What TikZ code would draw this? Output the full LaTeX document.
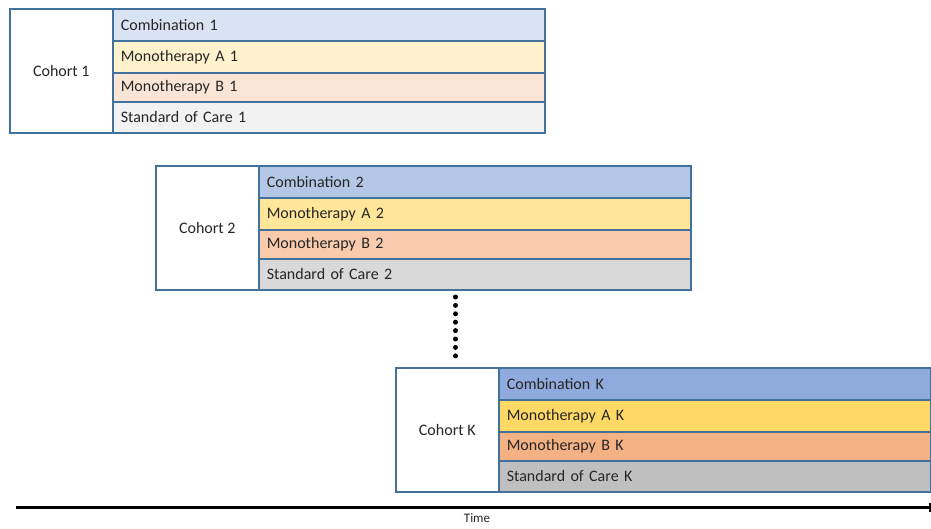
\documentclass[tikz,border=0pt]{standalone}
\usepackage{fontspec}
\setmainfont{Carlito}
\usetikzlibrary{arrows.meta}
\definecolor{bord}{HTML}{41719C}
\definecolor{cA}{HTML}{DAE3F3}\definecolor{mA1}{HTML}{FFF2CC}\definecolor{mB1}{HTML}{FBE5D6}\definecolor{s1}{HTML}{F2F2F2}
\definecolor{cB}{HTML}{B4C7E7}\definecolor{mA2}{HTML}{FFE699}\definecolor{mB2}{HTML}{F8CBAD}\definecolor{s2}{HTML}{D9D9D9}
\definecolor{cK}{HTML}{8FAADC}\definecolor{mAK}{HTML}{FFD966}\definecolor{mBK}{HTML}{F4B183}\definecolor{sK}{HTML}{BFBFBF}
\tikzset{
  cohortbox/.style={draw=bord, line width=1.6pt, fill=white, minimum width=103pt, minimum height=124pt, anchor=north west, inner sep=0pt, font=\fontsize{16}{18}\selectfont, text=black!85},
  armbox/.style={draw=bord, line width=1.6pt, text width=416pt, inner xsep=8pt, inner ysep=0pt, align=left, anchor=north west, font=\fontsize{16}{18}\selectfont, text=black!85},
  timeline/.style={line width=3pt, -{Bar[width=9pt,line width=2pt]}},
  dotline/.style={line width=5pt, line cap=round, dash pattern=on 0pt off 8.4pt}
}
\begin{document}
\begin{tikzpicture}[x=1pt,y=-1pt]
\useasboundingbox (0,0) rectangle (931,529);
% Cohort 1
\node[cohortbox] (co1) at (9,8) {Cohort 1};
\node[armbox, fill=cA, minimum height=32pt] (c1) at (112,8) {Combination 1};
\node[armbox, fill=mA1, minimum height=32pt] (a1) at (112,40) {Monotherapy A 1};
\node[armbox, fill=mB1, minimum height=29pt] (b1) at (112,72) {Monotherapy B 1};
\node[armbox, fill=s1, minimum height=31pt] (s1n) at (112,101) {Standard of Care 1};
% Cohort 2
\node[cohortbox] (co2) at (155,165) {Cohort 2};
\node[armbox, fill=cB, minimum height=32pt] (c2) at (258,165) {Combination 2};
\node[armbox, fill=mA2, minimum height=32pt] (a2) at (258,197) {Monotherapy A 2};
\node[armbox, fill=mB2, minimum height=29pt] (b2) at (258,229) {Monotherapy B 2};
\node[armbox, fill=s2, minimum height=31pt] (s2n) at (258,258) {Standard of Care 2};
% Cohort K
\node[cohortbox] (coK) at (395,367) {Cohort K};
\node[armbox, fill=cK, minimum height=32pt] (cKn) at (498,367) {Combination K};
\node[armbox, fill=mAK, minimum height=32pt] (aK) at (498,399) {Monotherapy A K};
\node[armbox, fill=mBK, minimum height=29pt] (bK) at (498,431) {Monotherapy B K};
\node[armbox, fill=sK, minimum height=31pt] (sKn) at (498,460) {Standard of Care K};
% dots
\coordinate (d0) at (455.5,297);
\coordinate (d1) at (455.5,358);
\draw[dotline] (d0) -- (d1);
% time axis
\coordinate (t0) at (16,507);
\coordinate (t1) at (931,507);
\draw[timeline] (t0) -- (t1);
\node[font=\fontsize{13}{15}\selectfont, text=black!85] (time) at (477,518) {Time};
\end{tikzpicture}
\end{document}
